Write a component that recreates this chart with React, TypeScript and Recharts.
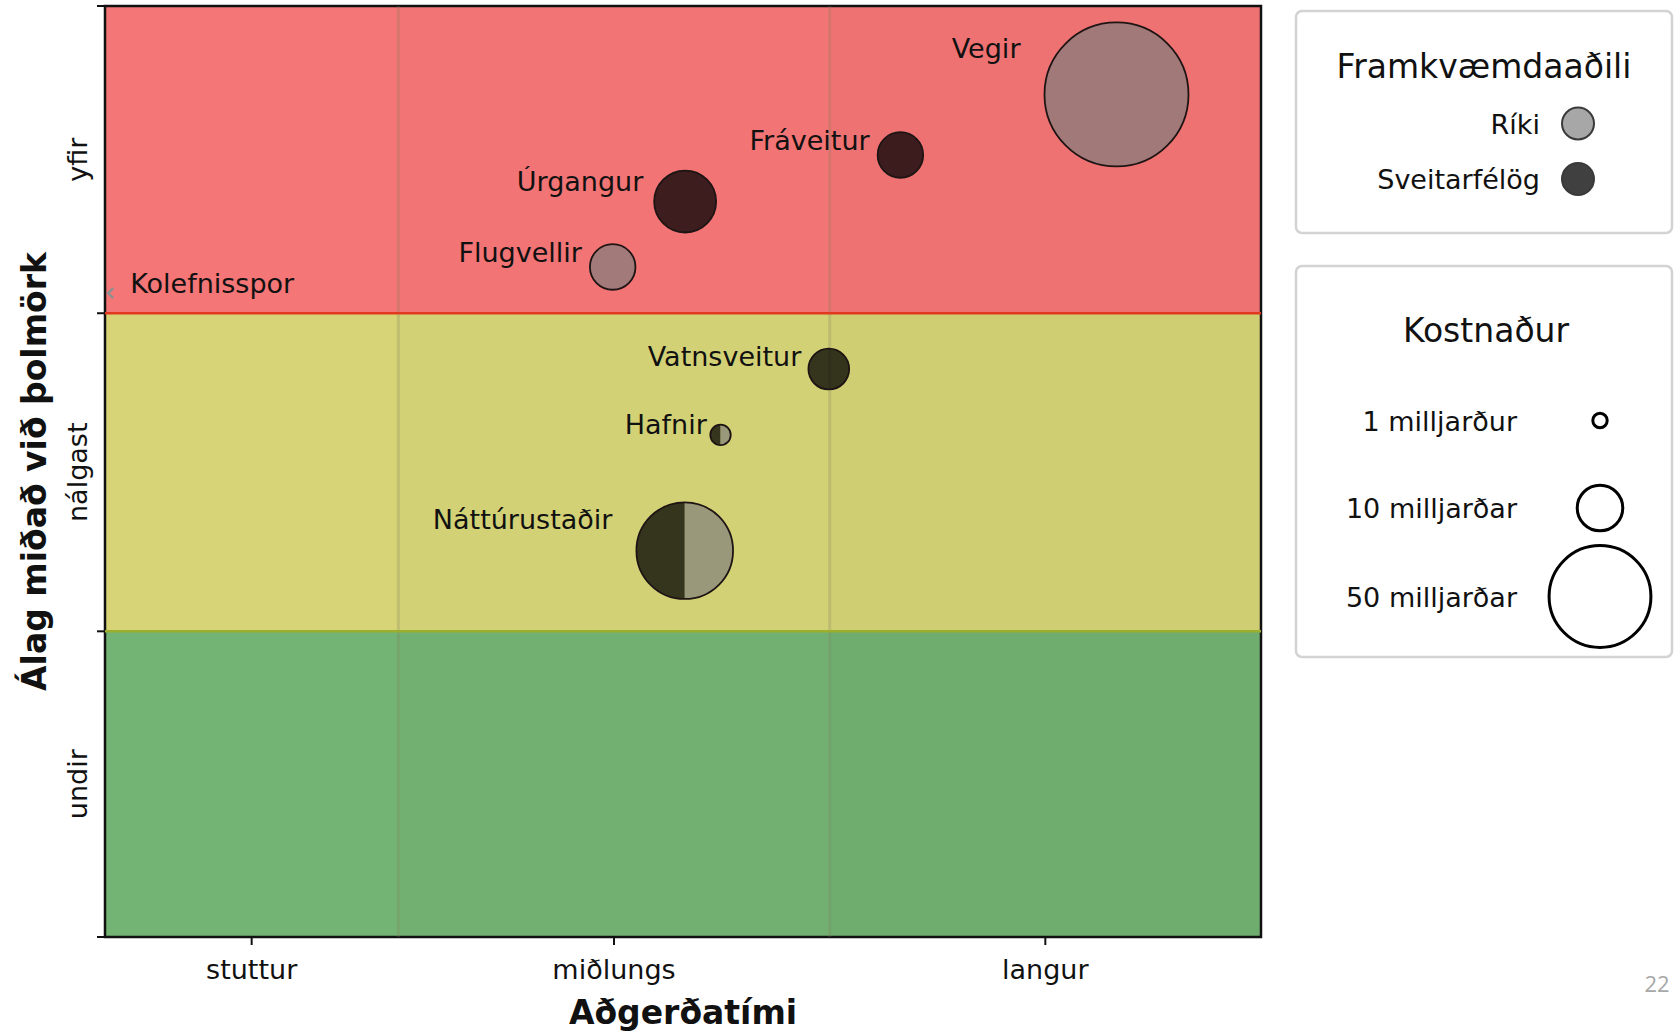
import React from "react";
import {
  ReferenceArea,
  ReferenceLine,
  Scatter,
  ScatterChart,
  XAxis,
  YAxis,
  ZAxis,
} from "recharts";

// verkefni (projects)
const projects = ["Vegir", "Fráveitur", "Úrgangur", "Flugvellir", "Vatnsveitur", "Hafnir", "Náttúrustaðir"];
const timeScore = [2.665, 2.164, 1.665, 1.497, 1.998, 1.747, 1.664];
const loadScore = [2.715, 2.52, 2.37, 2.159, 1.83, 1.618, 1.245];
const costBn = [100, 10, 18.5, 10, 8, 2, 45];
const stateShare = [1, 0, 0, 1, 0, 0.5, 0.5];

const carbonLabel = "Kolefnisspor";
const carbonTime = 0.332;
const carbonLoad = 2.075;

const timeLabels = ["stuttur", "miðlungs", "langur"];
const timeEdges = [0.32, 1, 2, 3];
const loadLabels = ["undir", "nálgast", "yfir"];
const loadEdges = [0, 0.985, 2.01, 3];

const ownerLabels = ["Ríki", "Sveitarfélög"];
const legendCosts = [1, 10, 50];
const legendCostLabels = ["1 milljarður", "10 milljarðar", "50 milljarðar"];

const W = 1676;
const H = 1031;
const FONT = "DejaVu Sans";
const bandColors = ["#73b373", "#d6d477", "#f57676"];
const LIGHT = "#7d7d7d";
const LIGHT_OP = 0.68;
const DARK = "#000000";
const DARK_OP = 0.75;
const Z_MAX = 100;
const AREA_MAX = 16290; // px² for Z_MAX

const data = projects.map((name, i) => ({
  name,
  x: timeScore[i],
  y: loadScore[i],
  z: costBn[i],
  share: stateShare[i],
}));
const carbonData = [{ name: carbonLabel, x: carbonTime, y: carbonLoad, z: 0 }];

const mids = (edges: number[]) => edges.slice(0, -1).map((e, i) => (e + edges[i + 1]) / 2);
const timeTicks = mids(timeEdges);
const loadMids = mids(loadEdges);
const loadTicks = [...loadEdges, ...loadMids].sort((a, b) => a - b);

const near = (a: number, b: number) => Math.abs(a - b) < 1e-6;

function XTick(props: any) {
  const { x, y, payload } = props;
  const i = timeTicks.findIndex((t) => near(t, payload.value));
  return (
    <g>
      <line x1={x} x2={x} y1={y} y2={y + 8} stroke="#111" strokeWidth={2} />
      <text x={x} y={y + 42} textAnchor="middle" fontFamily={FONT} fontSize={27} fill="#111">
        {timeLabels[i]}
      </text>
    </g>
  );
}

function YTick(props: any) {
  const { x, y, payload } = props;
  const v = payload.value;
  if (loadEdges.some((e) => near(e, v))) {
    return <line x1={x - 8} x2={x} y1={y} y2={y} stroke="#111" strokeWidth={2} />;
  }
  const i = loadMids.findIndex((m) => near(m, v));
  return (
    <text
      x={87}
      y={y}
      transform={`rotate(-90 87 ${y})`}
      textAnchor="middle"
      fontFamily={FONT}
      fontSize={27}
      fill="#111"
    >
      {loadLabels[i]}
    </text>
  );
}

function YTitle(props: any) {
  const vb = props.viewBox || { y: 6, height: 931 };
  const cy = vb.y + vb.height / 2;
  return (
    <text
      x={46}
      y={cy}
      transform={`rotate(-90 46 ${cy})`}
      textAnchor="middle"
      fontFamily={FONT}
      fontSize={33}
      fontWeight="bold"
      fill="#111"
    >
      Álag miðað við þolmörk
    </text>
  );
}

function wedge(cx: number, cy: number, r: number, a0: number, a1: number) {
  const large = a1 - a0 > Math.PI ? 1 : 0;
  const x0 = cx + r * Math.cos(a0);
  const y0 = cy + r * Math.sin(a0);
  const x1 = cx + r * Math.cos(a1);
  const y1 = cy + r * Math.sin(a1);
  return `M${cx},${cy} L${x0},${y0} A${r},${r} 0 ${large} 1 ${x1},${y1} Z`;
}

function Bubble(props: any) {
  const { cx, cy, payload } = props;
  const r = props.width ? props.width / 2 : Math.sqrt((props.size || 0) / Math.PI);
  const dark = 1 - payload.share;
  let body;
  if (dark <= 0) {
    body = <circle cx={cx} cy={cy} r={r} fill={LIGHT} fillOpacity={LIGHT_OP} />;
  } else if (dark >= 1) {
    body = <circle cx={cx} cy={cy} r={r} fill={DARK} fillOpacity={DARK_OP} />;
  } else {
    const a0 = Math.PI - dark * Math.PI;
    const a1 = Math.PI + dark * Math.PI;
    body = (
      <g>
        <path d={wedge(cx, cy, r, a0, a1)} fill={DARK} fillOpacity={DARK_OP} />
        <path d={wedge(cx, cy, r, a1, a0 + 2 * Math.PI)} fill={LIGHT} fillOpacity={LIGHT_OP} />
      </g>
    );
  }
  return (
    <g>
      {body}
      <circle cx={cx} cy={cy} r={r} fill="none" stroke="#1e1414" strokeWidth={1.8} />
      <text
        x={cx - r - Math.min(0.35 * r, 14) - (r > 40 ? 10 : 0)}
        y={cy - Math.max(0.65 * r - 10, 1)}
        textAnchor="end"
        fontFamily={FONT}
        fontSize={27}
        fill="#111"
      >
        {payload.name}
      </text>
    </g>
  );
}

function CarbonMark(props: any) {
  const { cx, cy, payload } = props;
  return (
    <g>
      <path
        d={`M${cx + 3},${cy - 5} L${cx - 2},${cy} L${cx + 3},${cy + 5}`}
        fill="none"
        stroke="#8f8f8f"
        strokeWidth={2.5}
      />
      <text x={cx + 20} y={cy} fontFamily={FONT} fontSize={27} fill="#111">
        {payload.name}
      </text>
    </g>
  );
}

const legendR = (c: number) => Math.sqrt((c * AREA_MAX) / Z_MAX / Math.PI);

function Legends() {
  const ownerY = [123.5, 179];
  const costY = [420.5, 508, 596.5];
  return (
    <svg width={W} height={H} style={{ position: "absolute", left: 0, top: 0, pointerEvents: "none" }}>
      <rect x={1296} y={11} width={376} height={222} rx={6} fill="#fff" stroke="#d3d3d3" strokeWidth={2.5} />
      <text x={1484} y={78} textAnchor="middle" fontFamily={FONT} fontSize={33} fill="#111">
        Framkvæmdaaðili
      </text>
      {ownerLabels.map((l, i) => (
        <g key={l}>
          <text x={1540} y={ownerY[i] + 10} textAnchor="end" fontFamily={FONT} fontSize={27} fill="#111">
            {l}
          </text>
          <circle
            cx={1578}
            cy={ownerY[i]}
            r={16}
            fill={i === 0 ? LIGHT : DARK}
            fillOpacity={i === 0 ? LIGHT_OP : DARK_OP}
            stroke="#3a3a3a"
            strokeWidth={2}
          />
        </g>
      ))}
      <rect x={1296} y={266} width={376} height={391} rx={6} fill="#fff" stroke="#d3d3d3" strokeWidth={2.5} />
      <text x={1486} y={342} textAnchor="middle" fontFamily={FONT} fontSize={33} fill="#111">
        Kostnaður
      </text>
      {legendCosts.map((c, i) => (
        <g key={c}>
          <text x={1517} y={costY[i] + 10} textAnchor="end" fontFamily={FONT} fontSize={27} fill="#111">
            {legendCostLabels[i]}
          </text>
          <circle cx={1600} cy={costY[i]} r={legendR(c)} fill="none" stroke="#000" strokeWidth={3} />
        </g>
      ))}
      <text x={1657} y={992} textAnchor="middle" fontFamily="Open Sans" fontSize={22} fill="#a8a8a8">
        22
      </text>
    </svg>
  );
}

export default function App() {
  const xMin = timeEdges[0];
  const xMax = timeEdges[timeEdges.length - 1];
  return (
    <div style={{ position: "absolute", left: 0, top: 0, width: W, height: H, background: "#fff" }}>
      <ScatterChart width={W} height={H} margin={{ top: 6, right: 415, bottom: 0, left: 0 }}>
        <XAxis
          type="number"
          dataKey="x"
          domain={[xMin, xMax]}
          ticks={timeTicks}
          interval={0}
          allowDataOverflow
          axisLine={false}
          tickLine={false}
          tickSize={0}
          tickMargin={0}
          height={94}
          tick={<XTick />}
          label={{
            value: "Aðgerðatími",
            position: "insideBottom",
            offset: 7,
            style: { fontFamily: FONT, fontSize: 33, fontWeight: "bold", fill: "#111" },
          }}
        />
        <YAxis
          type="number"
          dataKey="y"
          domain={[0, 3]}
          ticks={loadTicks}
          interval={0}
          allowDataOverflow
          axisLine={false}
          tickLine={false}
          tickSize={0}
          tickMargin={0}
          width={105}
          tick={<YTick />}
          label={<YTitle />}
        />
        <ZAxis type="number" dataKey="z" domain={[0, Z_MAX]} range={[0, AREA_MAX]} />
        {loadEdges.slice(0, -1).map((e, i) => (
          <ReferenceArea
            key={"band" + i}
            x1={xMin}
            x2={xMax}
            y1={e}
            y2={loadEdges[i + 1]}
            fill={bandColors[i]}
            fillOpacity={1}
            stroke="none"
          />
        ))}
        {timeEdges.slice(1, -1).map((e, i) => (
          <ReferenceArea
            key={"col" + i}
            x1={e}
            x2={xMax}
            y1={0}
            y2={3}
            fill="#000"
            fillOpacity={0.012}
            stroke="none"
          />
        ))}
        {timeEdges.slice(1, -1).map((e) => (
          <ReferenceLine key={"v" + e} x={e} stroke="#808060" strokeOpacity={0.25} strokeWidth={3} />
        ))}
        <ReferenceLine y={loadEdges[2]} stroke="#e2381f" strokeWidth={2.5} />
        <ReferenceLine y={loadEdges[1]} stroke="#9cae2e" strokeWidth={2.5} />
        <Scatter data={data} shape={(p: any) => <Bubble {...p} />} isAnimationActive={false} />
        <Scatter data={carbonData} shape={(p: any) => <CarbonMark {...p} />} isAnimationActive={false} />
        <ReferenceArea x1={xMin} x2={xMax} y1={0} y2={3} fill="none" stroke="#111" strokeWidth={2.5} />
      </ScatterChart>
      <Legends />
    </div>
  );
}
